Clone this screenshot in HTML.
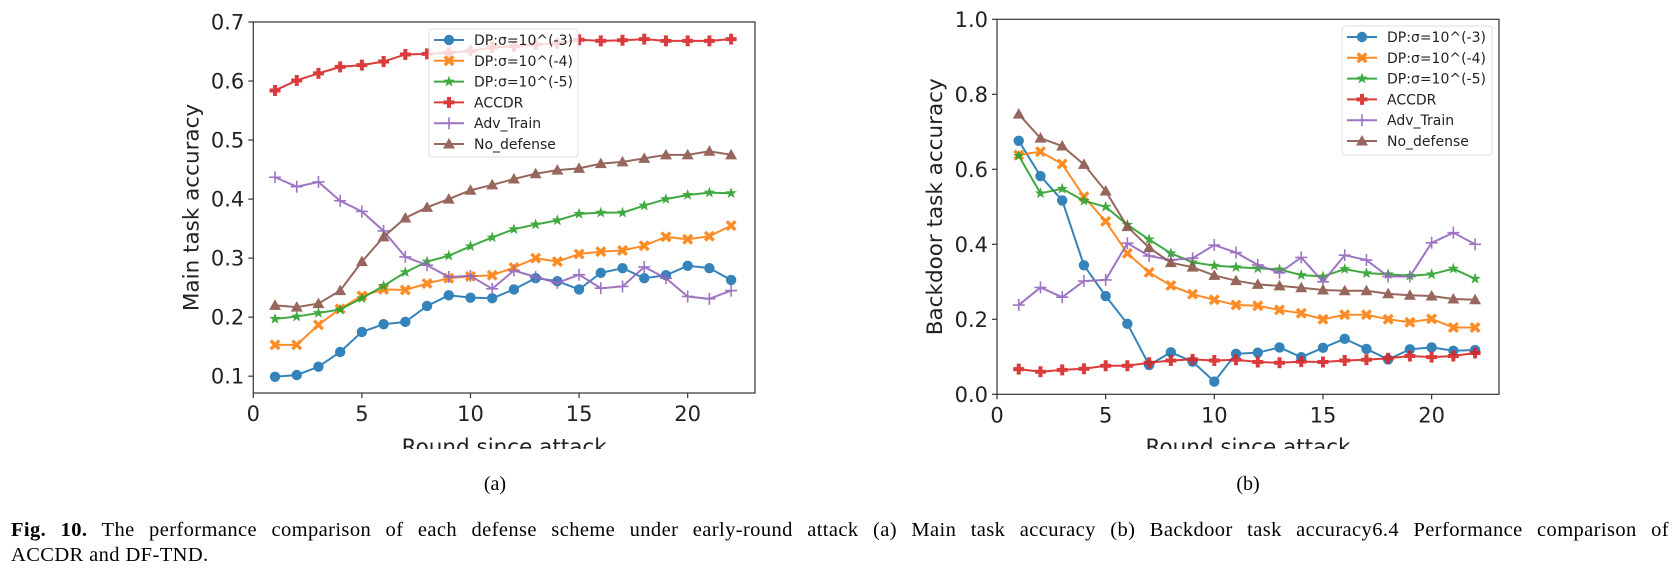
<!DOCTYPE html>
<html><head><meta charset="utf-8">
<style>
body{margin:0;background:#fff;width:1678px;height:584px;overflow:hidden;}
svg text{font-family:"DejaVu Sans","Liberation Sans",sans-serif;}
.cap{position:absolute;left:11px;width:1658px;font-family:"Liberation Serif",serif;font-size:20.5px;letter-spacing:0.4px;line-height:25px;color:#000;white-space:nowrap;}
.l1{top:518px;text-align:justify;text-align-last:justify;white-space:normal;}
.l2{top:543px;}
</style></head>
<body>
<svg id="fig" width="1678" height="584" style="position:absolute;left:0;top:0">
<defs>
<clipPath id="clipXa"><rect x="0" y="0" width="1678" height="449"/></clipPath>
</defs>
<g id="chartA"></g>
<g id="chartB"></g>
<text x="495" y="490" font-size="20" text-anchor="middle" style="font-family:'Liberation Serif',serif">(a)</text>
<text x="1248" y="490" font-size="20" text-anchor="middle" style="font-family:'Liberation Serif',serif">(b)</text>
</svg>
<div class="cap l1"><b>Fig. 10.</b> The performance comparison of each defense scheme under early-round attack (a) Main task accuracy (b) Backdoor task accuracy6.4 Performance comparison of</div>
<div class="cap l2">ACCDR and DF-TND.</div>
<script>
const rounds=[1,2,3,4,5,6,7,8,9,10,11,12,13,14,15,16,17,18,19,20,21,22];
const seriesNames=["DP:σ=10^(-3)","DP:σ=10^(-4)","DP:σ=10^(-5)","ACCDR","Adv_Train","No_defense"];
const mainDP3=[0.099,0.102,0.116,0.141,0.175,0.188,0.192,0.219,0.237,0.233,0.232,0.247,0.266,0.261,0.247,0.275,0.283,0.266,0.271,0.287,0.283,0.263];
const mainDP4=[0.153,0.153,0.187,0.214,0.236,0.247,0.246,0.257,0.266,0.269,0.271,0.284,0.300,0.294,0.307,0.311,0.313,0.321,0.336,0.332,0.337,0.355];
const mainDP5=[0.197,0.201,0.207,0.213,0.232,0.253,0.276,0.294,0.304,0.320,0.335,0.349,0.357,0.364,0.375,0.377,0.377,0.389,0.400,0.407,0.411,0.410];
const mainACCDR=[0.584,0.601,0.613,0.624,0.627,0.633,0.645,0.646,0.648,0.651,0.657,0.659,0.662,0.664,0.670,0.668,0.669,0.671,0.668,0.668,0.668,0.671];
const mainAdv=[0.437,0.421,0.429,0.397,0.379,0.346,0.302,0.288,0.268,0.270,0.248,0.279,0.268,0.258,0.272,0.249,0.252,0.285,0.266,0.235,0.231,0.245];
const mainNo=[0.220,0.217,0.223,0.245,0.294,0.336,0.368,0.386,0.400,0.415,0.424,0.434,0.443,0.449,0.452,0.460,0.463,0.469,0.475,0.475,0.481,0.475];
const bdDP3=[0.676,0.582,0.517,0.344,0.262,0.188,0.078,0.112,0.087,0.034,0.108,0.111,0.125,0.099,0.124,0.148,0.121,0.093,0.120,0.125,0.116,0.118];
const bdDP4=[0.638,0.647,0.614,0.527,0.461,0.376,0.325,0.290,0.267,0.252,0.238,0.236,0.225,0.216,0.200,0.212,0.212,0.200,0.192,0.201,0.178,0.178];
const bdDP5=[0.636,0.536,0.548,0.516,0.500,0.452,0.413,0.376,0.352,0.343,0.339,0.336,0.333,0.318,0.314,0.334,0.323,0.320,0.316,0.320,0.335,0.308];
const bdACCDR=[0.067,0.060,0.065,0.068,0.076,0.076,0.084,0.090,0.093,0.090,0.092,0.086,0.084,0.087,0.086,0.090,0.092,0.096,0.102,0.099,0.102,0.110];
const bdAdv=[0.238,0.285,0.259,0.302,0.305,0.403,0.369,0.358,0.363,0.398,0.378,0.345,0.324,0.365,0.300,0.371,0.358,0.314,0.314,0.404,0.431,0.400];
const bdNo=[0.747,0.683,0.662,0.613,0.542,0.447,0.391,0.351,0.339,0.317,0.303,0.293,0.289,0.284,0.278,0.276,0.276,0.268,0.264,0.262,0.254,0.252];
const xTicks=[0,5,10,15,20];
const yTicksA=["0.1","0.2","0.3","0.4","0.5","0.6","0.7"];
const yTicksB=["0.0","0.2","0.4","0.6","0.8","1.0"];

const NS="http://www.w3.org/2000/svg";
const colors=["#1f77b4","#ff7f0e","#2ca02c","#d62728","#9467bd","#8c564b"];
const markers=["o","X","*","P","+","^"];
function mk(tag,attrs,parent){const e=document.createElementNS(NS,tag);for(const k in attrs)e.setAttribute(k,attrs[k]);parent.appendChild(e);return e;}
function marker(g,type,x,y,c){
  let e;
  if(type==="o"){e=mk("circle",{cx:x,cy:y,r:5.2,fill:c},g);}
  else if(type==="X"){const s=5.5,w=2.4;e=mk("path",{d:`M${x-s},${y-s+w}L${x-s+w},${y-s}L${x},${y-w}L${x+s-w},${y-s}L${x+s},${y-s+w}L${x+w},${y}L${x+s},${y+s-w}L${x+s-w},${y+s}L${x},${y+w}L${x-s+w},${y+s}L${x-s},${y+s-w}L${x-w},${y}Z`,fill:c},g);}
  else if(type==="*"){let d="";for(let i=0;i<10;i++){const r=i%2?2.4:6;const a=-Math.PI/2+i*Math.PI/5;d+=(i?"L":"M")+(x+r*Math.cos(a)).toFixed(2)+","+(y+r*Math.sin(a)).toFixed(2);}e=mk("path",{d:d+"Z",fill:c},g);}
  else if(type==="P"){const s=5.5,w=2;e=mk("path",{d:`M${x-w},${y-s}H${x+w}V${y-w}H${x+s}V${y+w}H${x+w}V${y+s}H${x-w}V${y+w}H${x-s}V${y-w}H${x-w}Z`,fill:c},g);}
  else if(type==="+"){e=mk("path",{d:`M${x-6},${y}H${x+6}M${x},${y-6}V${y+6}`,stroke:c,"stroke-width":1.6,fill:"none"},g);}
  else {e=mk("path",{d:`M${x},${y-6}L${x+6},${y+4.5}L${x-6},${y+4.5}Z`,fill:c},g);}
  
  
}
function chart(gid,box,xmax,ymin,ymax,yTicks,ylabel,series,legend){
  const g=document.getElementById(gid);
  const X=v=>box.l+(v/xmax)*(box.r-box.l);
  const Y=v=>box.b-(v-ymin)/(ymax-ymin)*(box.b-box.t);
  series.forEach((vals,si)=>{
    const sg=mk("g",{opacity:0.9},g);
    
    
    const pts=rounds.map((r,i)=>X(r).toFixed(2)+","+Y(vals[i]).toFixed(2)).join(" ");
    const pl=mk("polyline",{points:pts,fill:"none",stroke:colors[si],"stroke-width":2},sg);
    
    
    rounds.forEach((r,i)=>marker(sg,markers[si],X(r),Y(vals[i]),colors[si]));
  });
  const frame=mk("rect",{x:box.l,y:box.t,width:box.r-box.l,height:box.b-box.t,fill:"none",stroke:"#333","stroke-width":1.2},g);
  
  
  xTicks.forEach(t=>{
    mk("line",{x1:X(t),x2:X(t),y1:box.b,y2:box.b+5,stroke:"#333","stroke-width":1.2},g);
    const tx=mk("text",{x:X(t),y:box.b+28,"font-size":21,"text-anchor":"middle",fill:"#222"},g);
    tx.textContent=t;
    
    
  });
  yTicks.forEach(t=>{
    const v=parseFloat(t);
    mk("line",{x1:box.l-5,x2:box.l,y1:Y(v),y2:Y(v),stroke:"#333","stroke-width":1.2},g);
    const tx=mk("text",{x:box.l-9,y:Y(v)+7.5,"font-size":21,"text-anchor":"end",fill:"#222"},g);
    tx.textContent=t;
    
    
  });
  const yl=mk("text",{x:0,y:0,"font-size":21.5,"text-anchor":"middle",fill:"#222",transform:`translate(${box.l-55},${(box.t+box.b)/2}) rotate(-90)`},g);
  yl.textContent=ylabel;
  
  
  const xl=mk("text",{x:(box.l+box.r)/2,y:454,"font-size":21.5,"text-anchor":"middle",fill:"#222","clip-path":"url(#clipXa)"},g);
  xl.textContent="Round since attack";
  
  
  const lg=mk("g",{},g);
  
  
  mk("rect",{x:legend.x,y:legend.y,width:legend.w,height:legend.h,rx:3,fill:"#fff","fill-opacity":0.8,stroke:"#ddd"},lg);
  seriesNames.forEach((n,i)=>{
    const yy=legend.y+11+i*20.8;
    const eg=mk("g",{opacity:0.9},lg);
    
    
    mk("line",{x1:legend.x+5,x2:legend.x+35,y1:yy,y2:yy,stroke:colors[i],"stroke-width":2},eg);
    marker(eg,markers[i],legend.x+20,yy,colors[i]);
    const t=mk("text",{x:legend.x+45,y:yy+5,"font-size":14,fill:"#222"},lg);
    t.textContent=n;
  });
}
chart("chartA",{l:253.3,r:755,t:22,b:393},23.1,0.0715,0.7,yTicksA,"Main task accuracy",
  [mainDP3,mainDP4,mainDP5,mainACCDR,mainAdv,mainNo],{x:429,y:29,w:149,h:128});
chart("chartB",{l:997,r:1499,t:19.3,b:394.3},23.1,0,1,yTicksB,"Backdoor task accuracy",
  [bdDP3,bdDP4,bdDP5,bdACCDR,bdAdv,bdNo],{x:1342,y:26,w:150,h:129});
</script>
</body></html>
